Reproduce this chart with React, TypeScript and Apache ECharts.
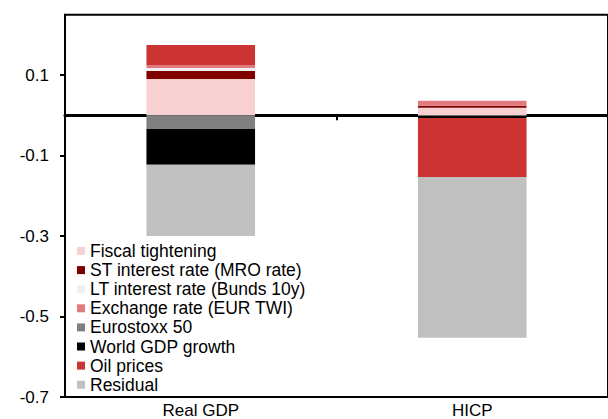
import React, { useEffect, useRef } from "react";
import * as echarts from "echarts";

const categories = ["Real GDP", "HICP"];
const seriesNames = [
  "Fiscal tightening",
  "ST interest rate (MRO rate)",
  "LT interest rate (Bunds 10y)",
  "Exchange rate (EUR TWI)",
  "Eurostoxx 50",
  "World GDP growth",
  "Oil prices",
  "Residual",
];
const fiscal = [0.09, 0.019];
const stRate = [0.02, 0.005];
const ltRate = [0.0075, 0.0];
const exchangeRate = [0.0075, 0.012];
const eurostoxx = [-0.034, -0.002];
const worldGdp = [-0.089, -0.005];
const oilPrices = [0.05, -0.146];
const residual = [-0.177, -0.4];
const tickValues = [-0.7, -0.5, -0.3, -0.1, 0.1];
const colors = ["#f7d0d2", "#800000", "#f0f0f0", "#e07a7c", "#808080", "#000000", "#cc3333", "#c0c0c0"];

const seriesData = [fiscal, stRate, ltRate, exchangeRate, eurostoxx, worldGdp, oilPrices, residual];

export default function App() {
  const ref = useRef<HTMLDivElement>(null);
  useEffect(() => {
    if (!ref.current) return;
    const chart = echarts.init(ref.current, undefined, { renderer: "svg" });
    const font = "'Liberation Sans', Arial, sans-serif";
    chart.setOption({
      animation: false,
      textStyle: { fontFamily: font },
      grid: {
        left: 65,
        top: 14.7,
        bottom: 22,
        right: -9,
        show: true,
        borderColor: "#000",
        borderWidth: 2,
        backgroundColor: "transparent",
      },
      legend: {
        orient: "vertical",
        left: 72,
        top: 237,
        itemWidth: 8,
        itemHeight: 8,
        itemGap: 1.1,
        icon: "rect",
        data: seriesNames,
        textStyle: { fontSize: 17.5, lineHeight: 17, color: "#000", fontFamily: font },
      },
      xAxis: [
        {
          type: "category",
          data: categories,
          position: "bottom",
          axisLine: { onZero: false, lineStyle: { color: "#000", width: 2 } },
          axisTick: { show: false },
          axisLabel: { fontSize: 17, color: "#000", margin: 5, fontFamily: font },
        },
        {
          type: "category",
          data: categories,
          position: "bottom",
          axisLine: { onZero: true, lineStyle: { color: "#000", width: 3 } },
          axisTick: { show: true, length: 5, lineStyle: { color: "#000", width: 2 } },
          axisLabel: { show: false },
        },
      ],
      yAxis: {
        type: "value",
        min: -0.7,
        max: 0.25,
        splitLine: { show: false },
        axisLine: { show: true, lineStyle: { color: "#000", width: 2 } },
        axisTick: { show: true, length: 5, lineStyle: { color: "#000", width: 2 }, customValues: tickValues },
        axisLabel: {
          customValues: tickValues,
          fontSize: 17,
          color: "#000",
          margin: 16,
          fontFamily: font,
          formatter: (v: number) => v.toFixed(1),
        },
      },
      series: seriesNames.map((name, i) => ({
        name,
        type: "bar",
        stack: "total",
        xAxisIndex: 0,
        barWidth: "40%",
        itemStyle: { color: colors[i] },
        data: seriesData[i],
      })),
    });
    return () => chart.dispose();
  }, []);
  return <div ref={ref} style={{ width: 608, height: 419, position: "absolute", left: 0, top: 0 }} />;
}
